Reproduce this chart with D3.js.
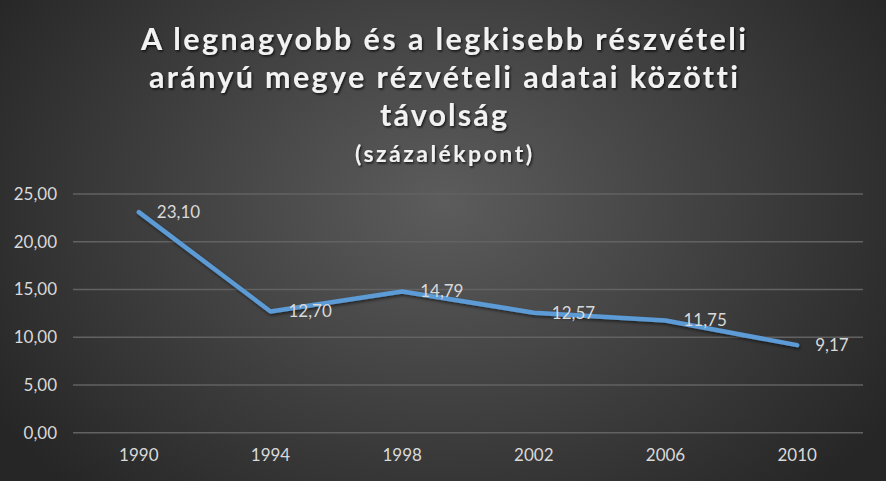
<!DOCTYPE html>
<html>
<head>
<meta charset="utf-8">
<script src="https://cdn.jsdelivr.net/npm/d3@7"></script>
<style>
  html, body { margin: 0; padding: 0; background: #262626; }
  svg { display: block; }
  text { font-variant-ligatures: none; font-feature-settings: "liga" 0, "clig" 0; }
</style>
</head>
<body>
<script>
// ---- data ----
const years = ["1990", "1994", "1998", "2002", "2006", "2010"];
const values = [23.10, 12.70, 14.79, 12.57, 11.75, 9.17];
const yTicks = [0, 5, 10, 15, 20, 25];
const titleLines = [
  "A legnagyobb és a legkisebb részvételi",
  "arányú megye rézvételi adatai közötti",
  "távolság"
];
const subtitle = "(százalékpont)";

const W = 886, H = 481;
const margin = { left: 73, right: 23, top: 194, bottom: 48 };

const fmt = v => v.toFixed(2).replace(".", ",");

const svg = d3.select("body").append("svg")
  .attr("width", W).attr("height", H);

const defs = svg.append("defs");
const grad = defs.append("radialGradient")
  .attr("id", "bg").attr("gradientUnits", "userSpaceOnUse")
  .attr("cx", W * 0.5).attr("cy", H * 0.42).attr("r", W * 0.6)
  .attr("gradientTransform", `translate(${W*0.5},${H*0.42}) scale(1,0.75) translate(${-W*0.5},${-H*0.42})`);
grad.append("stop").attr("offset", "0%").attr("stop-color", "#5c5c5c");
grad.append("stop").attr("offset", "100%").attr("stop-color", "#262626");

const shadow = defs.append("filter").attr("id", "tshadow")
  .attr("x", "-10%").attr("y", "-30%").attr("width", "120%").attr("height", "160%");
shadow.append("feDropShadow").attr("dx", 1.2).attr("dy", 1.5)
  .attr("stdDeviation", 1.2).attr("flood-color", "#000").attr("flood-opacity", 0.75);

const lshadow = defs.append("filter").attr("id", "lshadow")
  .attr("x", "-10%").attr("y", "-20%").attr("width", "120%").attr("height", "140%");
lshadow.append("feDropShadow").attr("dx", 1).attr("dy", 2)
  .attr("stdDeviation", 1.5).attr("flood-color", "#000").attr("flood-opacity", 0.5);

svg.append("rect").attr("width", W).attr("height", H).attr("fill", "url(#bg)");

// ---- title ----
const titleWidths = [605, 589, 127];
const titleBase = [50, 88, 126];
const tg = svg.append("g").attr("filter", "url(#tshadow)")
  .attr("font-family", "Lato, 'Open Sans', sans-serif")
  .attr("font-weight", "bold").attr("fill", "#f2f2f2").attr("text-anchor", "middle");
titleLines.forEach((t, i) => {
  tg.append("text").attr("x", W / 2 + 0.5).attr("y", titleBase[i])
    .attr("font-size", 30.5)
    .attr("textLength", titleWidths[i]).attr("lengthAdjust", "spacing")
    .text(t);
});
tg.append("text").attr("x", W / 2 + 0.5).attr("y", 162)
  .attr("font-size", 23)
  .attr("textLength", 177).attr("lengthAdjust", "spacing")
  .text(subtitle);

// ---- scales ----
const x = d3.scaleBand().domain(years).range([margin.left, W - margin.right]);
const y = d3.scaleLinear().domain([0, 25]).range([H - margin.bottom - 0.3, margin.top]);

// grid
svg.append("g").selectAll("line").data(yTicks).join("line")
  .attr("x1", margin.left).attr("x2", W - margin.right)
  .attr("y1", d => y(d)).attr("y2", d => y(d))
  .attr("stroke", "#626262").attr("stroke-width", 1.4);

// y axis
const yAxis = d3.axisLeft(y).tickValues(yTicks).tickFormat(fmt).tickSize(0).tickPadding(16);
const gy = svg.append("g").attr("transform", `translate(${margin.left},0)`).call(yAxis);
gy.select(".domain").remove();
gy.selectAll("text").attr("fill", "#d9d9d9").attr("font-size", 17)
  .attr("font-family", "Lato, 'Open Sans', sans-serif");

// x axis
const xAxis = d3.axisBottom(x).tickSize(0).tickPadding(16);
const gx = svg.append("g").attr("transform", `translate(0,${y(0)})`).call(xAxis);
gx.select(".domain").remove();
gx.selectAll("text").attr("fill", "#d9d9d9").attr("font-size", 17)
  .attr("font-family", "Lato, 'Open Sans', sans-serif");

// line
const line = d3.line()
  .x((d, i) => x(years[i]) + x.bandwidth() / 2)
  .y(d => y(d));
svg.append("path").datum(values)
  .attr("d", line).attr("fill", "none")
  .attr("stroke", "#5b9bd5").attr("stroke-width", 4.5)
  .attr("stroke-linejoin", "round").attr("stroke-linecap", "round")
  .attr("filter", "url(#lshadow)");

// labels
svg.append("g").selectAll("text").data(values).join("text")
  .attr("x", (d, i) => x(years[i]) + x.bandwidth() / 2 + 18)
  .attr("y", d => y(d))
  .attr("dy", "0.35em")
  .attr("fill", "#d9d9d9").attr("font-size", 17)
  .attr("font-family", "Lato, 'Open Sans', sans-serif")
  .text(fmt);
</script>
</body>
</html>
